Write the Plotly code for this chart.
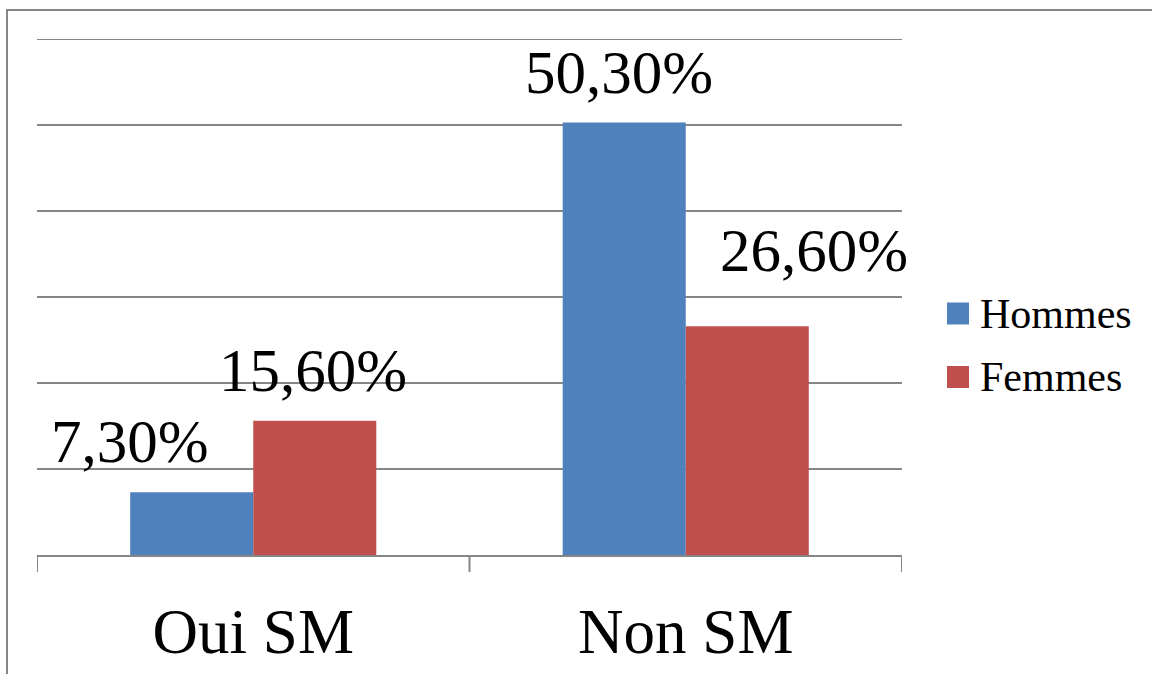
import plotly.graph_objects as go

# Data
categories = ["Oui SM", "Non SM"]
series_names = ["Hommes", "Femmes"]
hommes = [7.3, 50.3]
femmes = [15.6, 26.6]
colors = ["#4F81BD", "#C0504D"]
y_max = 60

W, H = 1152, 674
ML, MR, MT, MB = 37, 250, 39, 119
plot_w = W - ML - MR
plot_h = H - MT - MB
FONT = "Liberation Serif"
GRID = "#868686"

fig = go.Figure()
for name, vals, col in zip(series_names, [hommes, femmes], colors):
    fig.add_trace(go.Bar(
        x=list(range(len(categories))), y=vals, name=name,
        marker=dict(color=col, line=dict(width=0)),
        showlegend=False,
    ))

bargap = 0.431
bar_w = (1 - bargap) / 2  # in category units

def fmt(v):
    return f"{v:.2f}".replace(".", ",") + "%"

# value labels: (dx px, dy px above bar top) per series/category
offsets = {
    (0, 0): (-62, 51), (0, 1): (-5, 50),
    (1, 0): (-2, 50), (1, 1): (67, 76),
}
annotations = []
for s, vals in enumerate([hommes, femmes]):
    for c, v in enumerate(vals):
        xc = c + (s - 0.5) * bar_w
        dx, dy = offsets[(s, c)]
        annotations.append(dict(
            x=xc, y=v, xref="x", yref="y", text=fmt(v), showarrow=False,
            xanchor="center", yanchor="middle", xshift=dx, yshift=dy,
            font=dict(family=FONT, size=61, color="black"),
        ))

# legend drawn as swatches + text
def px2paper(px, py):
    return (px - ML) / plot_w, (H - MB - py) / plot_h

shapes = []
leg_items = [(313.5, 0), (377, 1)]
for cy, i in leg_items:
    x0, y0 = px2paper(947, cy + 11)
    x1, y1 = px2paper(969, cy - 11)
    shapes.append(dict(type="rect", xref="paper", yref="paper", x0=x0, x1=x1, y0=y0, y1=y1,
                       fillcolor=colors[i], line=dict(width=0)))
    tx, ty = px2paper(978, cy)
    annotations.append(dict(x=tx, y=ty, xref="paper", yref="paper", text=series_names[i],
                            showarrow=False, xanchor="left", yanchor="middle",
                            font=dict(family=FONT, size=42, color="black")))

# outer frame
bx0, by1 = px2paper(7, 10)
bx1, by0 = px2paper(1200, 720)
shapes.append(dict(type="rect", xref="paper", yref="paper", x0=bx0, x1=bx1, y0=by0, y1=by1,
                   line=dict(color=GRID, width=2), fillcolor="rgba(0,0,0,0)", layer="below"))

# top gridline at the end of the value range
shapes.append(dict(type="line", xref="paper", yref="y", x0=0, x1=1, y0=y_max, y1=y_max,
                   line=dict(color=GRID, width=2), layer="below"))

fig.update_layout(
    width=W, height=H,
    margin=dict(l=ML, r=MR, t=MT, b=MB, pad=0, autoexpand=False),
    plot_bgcolor="white", paper_bgcolor="white",
    barmode="group", bargap=bargap, bargroupgap=0,
    annotations=annotations, shapes=shapes,
    showlegend=False,
)
fig.update_xaxes(
    tickmode="array", tickvals=list(range(len(categories))), ticktext=categories,
    range=[-0.5, len(categories) - 0.5],
    showline=True, linecolor=GRID, linewidth=2,
    ticks="", showgrid=False, zeroline=False, automargin=False,
    tickfont=dict(family=FONT, size=63, color="black"),
    ticklabelstandoff=20,
)
# boundary ticks
for b in [-0.5, 0.5, 1.5]:
    fig.add_shape(type="line", xref="x", yref="paper", x0=b, x1=b,
                  y0=0, y1=-17 / plot_h, line=dict(color=GRID, width=2))
fig.update_yaxes(
    range=[0, y_max], dtick=10, showgrid=True, gridcolor=GRID, gridwidth=2,
    showticklabels=False, zeroline=False, showline=False, automargin=False,
)

fig.write_html("out.html")
